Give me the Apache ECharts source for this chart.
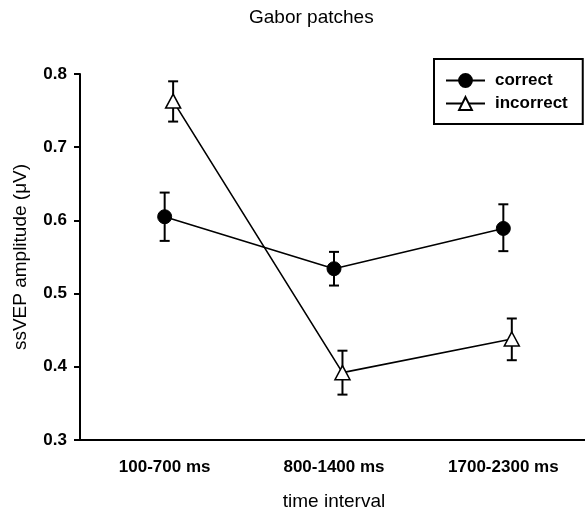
<!DOCTYPE html>
<html>
<head>
<meta charset="utf-8">
<script src="https://cdn.jsdelivr.net/npm/echarts@6/dist/echarts.min.js"></script>
<style>
  html, body { margin: 0; padding: 0; background: #fff; }
  #chart { width: 585px; height: 507px; }
</style>
</head>
<body>
<div id="chart"></div>
<script>
const categories = ["100-700 ms", "800-1400 ms", "1700-2300 ms"];

const correctMean = [0.605, 0.534, 0.589];
const correctLow = [0.572, 0.511, 0.558];
const correctHigh = [0.638, 0.557, 0.622];

const incorrectMean = [0.763, 0.392, 0.438];
const incorrectLow = [0.735, 0.362, 0.409];
const incorrectHigh = [0.790, 0.422, 0.466];

// triangles sit a little right of the circles in the original
const jitter = 0.05;

const font = "'Liberation Sans', Arial, sans-serif";

const errorBars = (name, offset, low, high) => ({
  name: name,
  type: "custom",
  xAxisIndex: 1,
  z: 1,
  data: low.map((lo, i) => [i + offset, lo, high[i]]),
  renderItem: function (params, api) {
    const top = api.coord([api.value(0), api.value(2)]);
    const bottom = api.coord([api.value(0), api.value(1)]);
    const cap = 5;
    const style = { stroke: "#000", lineWidth: 2 };
    return {
      type: "group",
      children: [
        { type: "line", shape: { x1: top[0], y1: top[1], x2: bottom[0], y2: bottom[1] }, style: style },
        { type: "line", shape: { x1: top[0] - cap, y1: top[1], x2: top[0] + cap, y2: top[1] }, style: style },
        { type: "line", shape: { x1: bottom[0] - cap, y1: bottom[1], x2: bottom[0] + cap, y2: bottom[1] }, style: style },
      ],
    };
  },
});

const chart = echarts.init(document.getElementById("chart"));
chart.setOption({
  animation: false,
  title: {
    text: "Gabor patches",
    left: 249,
    top: 8,
    padding: 0,
    textStyle: { fontFamily: font, fontSize: 19, fontWeight: "normal", color: "#000" },
  },
  legend: {
    data: ["correct", "incorrect"],
    orient: "vertical",
    left: 434,
    top: 59,
    padding: [13, 15, 12, 11],
    itemGap: 6,
    itemWidth: 39,
    itemHeight: 16,
    borderColor: "#000",
    borderWidth: 2,
    textStyle: { fontFamily: font, fontSize: 17, fontWeight: "bold", color: "#000", padding: [0, 0, 0, 5] },
  },
  grid: { left: 80, top: 74, width: 508, height: 366, containLabel: false, outerBoundsMode: "none" },
  xAxis: [
    {
      type: "category",
      data: categories,
      boundaryGap: true,
      name: "time interval",
      nameLocation: "middle",
      nameGap: 52,
      nameTextStyle: { fontFamily: font, fontSize: 19, color: "#000" },
      axisLine: { lineStyle: { color: "#000", width: 2 } },
      axisTick: { alignWithLabel: true, length: 5, lineStyle: { color: "#000", width: 2 } },
      axisLabel: { margin: 19, fontFamily: font, fontSize: 17, fontWeight: "bold", color: "#000" },
    },
    {
      type: "value",
      min: -0.5,
      max: 2.5,
      show: false,
    },
  ],
  yAxis: {
    type: "value",
    min: 0.3,
    max: 0.8,
    interval: 0.1,
    name: "ssVEP amplitude (μV)",
    nameLocation: "middle",
    nameGap: 50,
    nameTextStyle: { fontFamily: font, fontSize: 19, color: "#000" },
    splitLine: { show: false },
    axisLine: { show: true, onZero: false, lineStyle: { color: "#000", width: 2 } },
    axisTick: { show: true, length: 6, lineStyle: { color: "#000", width: 2 } },
    axisLabel: {
      margin: 13,
      fontFamily: font,
      fontSize: 17,
      fontWeight: "bold",
      color: "#000",
      formatter: (v) => v.toFixed(1),
    },
  },
  series: [
    errorBars("correct-err", 0, correctLow, correctHigh),
    errorBars("incorrect-err", jitter, incorrectLow, incorrectHigh),
    {
      name: "correct",
      type: "line",
      xAxisIndex: 1,
      data: correctMean.map((v, i) => [i, v]),
      symbol: "circle",
      symbolSize: 14,
      itemStyle: { color: "#000", borderColor: "#000", borderWidth: 1 },
      lineStyle: { color: "#000", width: 1.6 },
      z: 3,
    },
    {
      name: "incorrect",
      type: "line",
      xAxisIndex: 1,
      data: incorrectMean.map((v, i) => [i + jitter, v]),
      symbol: "triangle",
      symbolSize: [15, 14],
      itemStyle: { color: "#fff", borderColor: "#000", borderWidth: 1.5 },
      lineStyle: { color: "#000", width: 1.6 },
      z: 4,
    },
  ],
});
</script>
</body>
</html>
